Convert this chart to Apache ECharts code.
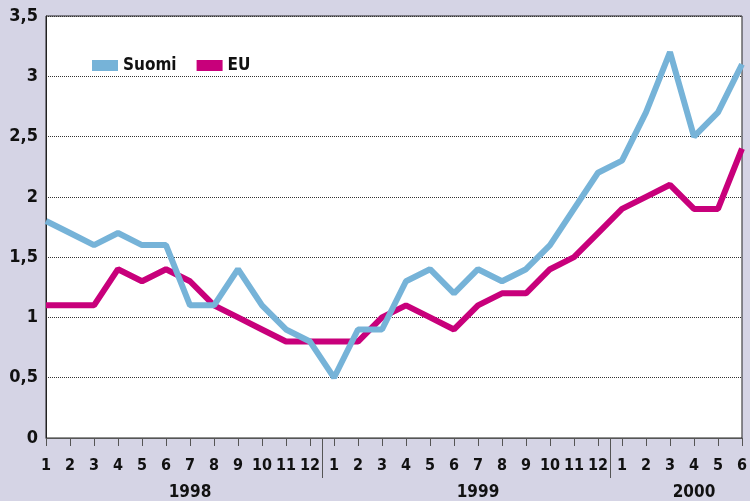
<!DOCTYPE html>
<html>
<head>
<meta charset="utf-8">
<script src="https://cdn.jsdelivr.net/npm/echarts@6/dist/echarts.min.js"></script>
<style>
  html, body { margin: 0; padding: 0; background: #d5d4e5; }
  #chart { width: 750px; height: 501px; }
</style>
</head>
<body>
<div id="chart"></div>
<script>
// Kuukaudet 1998/1 - 2000/6
const kuukaudet = [
  "1", "2", "3", "4", "5", "6", "7", "8", "9", "10", "11", "12",
  "1", "2", "3", "4", "5", "6", "7", "8", "9", "10", "11", "12",
  "1", "2", "3", "4", "5", "6"
];
const suomi = [
  1.8, 1.7, 1.6, 1.7, 1.6, 1.6, 1.1, 1.1, 1.4, 1.1, 0.9, 0.8,
  0.5, 0.9, 0.9, 1.3, 1.4, 1.2, 1.4, 1.3, 1.4, 1.6, 1.9, 2.2,
  2.3, 2.7, 3.2, 2.5, 2.7, 3.1
];
const eu = [
  1.1, 1.1, 1.1, 1.4, 1.3, 1.4, 1.3, 1.1, 1.0, 0.9, 0.8, 0.8,
  0.8, 0.8, 1.0, 1.1, 1.0, 0.9, 1.1, 1.2, 1.2, 1.4, 1.5, 1.7,
  1.9, 2.0, 2.1, 1.9, 1.9, 2.4
];
// vuosien nimet ja kohdat (indeksi kuukausilistassa)
const vuodet = ["1998", "1999", "2000"];
const vuosiKohdat = [6, 18, 27];
// vuodenvaihteet: viiva kahden kuukauden väliin
const vaihteet = [11, 23];

const fontti = '"Liberation Sans Narrow", "DejaVu Sans Condensed", sans-serif';

var myChart = echarts.init(document.getElementById("chart"));

var option = {
  backgroundColor: "#d5d4e5",
  animation: false,
  grid: {
    left: 46,
    right: 5,
    top: 16,
    bottom: 61,
    show: true,
    backgroundColor: "#ffffff",
    borderColor: "#222",
    borderWidth: 1,
  },
  legend: {
    left: 87,
    top: 52,
    itemWidth: 26,
    itemHeight: 11,
    itemGap: 20,
    icon: "rect",
    selectedMode: false,
    textStyle: {
      fontFamily: fontti,
      fontSize: 17,
      fontWeight: "bold",
      color: "#111",
    },
    data: ["Suomi", "EU"],
  },
  xAxis: [
    {
      type: "category",
      data: kuukaudet,
      boundaryGap: false,
      axisLine: { lineStyle: { color: "#555", width: 1 } },
      axisTick: { show: true, length: 8, lineStyle: { color: "#555" } },
      axisLabel: {
        interval: 0,
        margin: 20,
        fontFamily: fontti,
        fontSize: 16,
        fontWeight: "bold",
        color: "#111",
      },
    },
    {
      type: "category",
      data: kuukaudet,
      position: "bottom",
      offset: 38,
      boundaryGap: false,
      axisLine: { show: false },
      axisTick: { show: false },
      axisLabel: {
        interval: 0,
        fontFamily: fontti,
        fontSize: 17,
        fontWeight: "bold",
        color: "#111",
        formatter: function (value, index) {
          const k = vuosiKohdat.indexOf(index);
          return k >= 0 ? vuodet[k] : "";
        },
      },
    },
  ],
  yAxis: {
    type: "value",
    min: 0,
    max: 3.5,
    interval: 0.5,
    axisLine: { show: true, lineStyle: { color: "#222", width: 1 } },
    axisTick: { show: false },
    splitLine: {
      lineStyle: { color: "#333", type: [1, 1], width: 1 },
    },
    axisLabel: {
      margin: 8,
      fontFamily: fontti,
      fontSize: 18,
      fontWeight: "bold",
      color: "#111",
      formatter: function (v) {
        return String(v).replace(".", ",");
      },
    },
  },
  series: [
    {
      name: "Suomi",
      type: "line",
      data: suomi,
      symbol: "none",
      color: "#76b3d8",
      lineStyle: { width: 6, color: "#76b3d8" },
      z: 3,
    },
    {
      name: "EU",
      type: "line",
      data: eu,
      symbol: "none",
      color: "#c8007b",
      lineStyle: { width: 6, color: "#c8007b" },
      z: 2,
    },
  ],
};

myChart.setOption(option);

// vuodenvaihteen pystyviivat akselin alle
const viivat = vaihteet.map(function (i) {
  const a = myChart.convertToPixel({ xAxisIndex: 0 }, i);
  const b = myChart.convertToPixel({ xAxisIndex: 0 }, i + 1);
  const y0 = myChart.convertToPixel({ yAxisIndex: 0 }, 0);
  const x = Math.round((a + b) / 2) + 0.5;
  return {
    type: "line",
    shape: { x1: x, y1: y0, x2: x, y2: y0 + 40 },
    style: { stroke: "#555", lineWidth: 1 },
  };
});
myChart.setOption({ graphic: viivat });
</script>
</body>
</html>
